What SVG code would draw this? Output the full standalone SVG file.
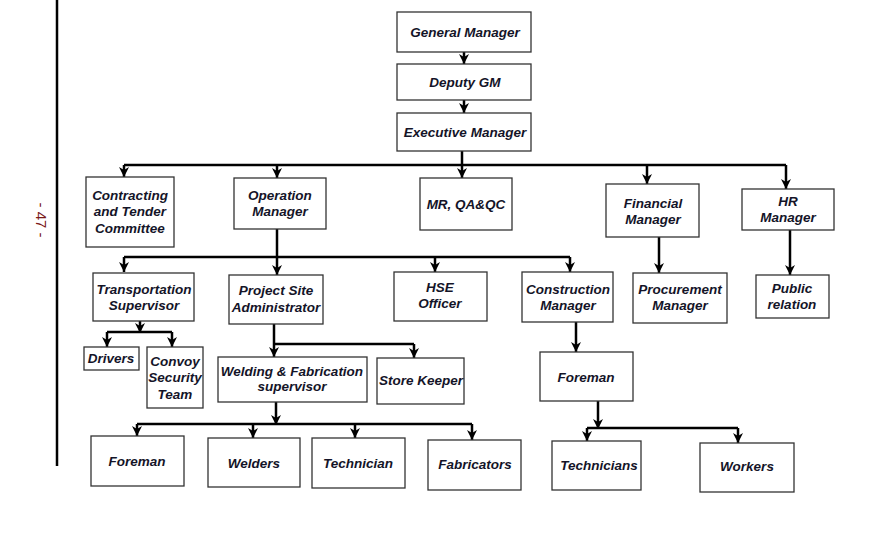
<svg xmlns="http://www.w3.org/2000/svg" width="884" height="540" viewBox="0 0 884 540">
<defs>
<marker id="ah" viewBox="0 0 10 10" refX="10" refY="5" markerWidth="10" markerHeight="10" markerUnits="userSpaceOnUse" orient="auto">
<path d="M0,0 L10,5 L0,10 L3,5 z" fill="#000"/>
</marker>
<style>
.b{fill:#fff;stroke:#333;stroke-width:1.3}
.t{font-family:"Liberation Sans",Arial,sans-serif;font-weight:bold;font-style:italic;font-size:13.5px;fill:#141428;text-anchor:middle}
.c{fill:none;stroke:#000;stroke-width:2.5}
.a{fill:none;stroke:#000;stroke-width:2.5;marker-end:url(#ah)}
</style>
</defs>
<rect width="884" height="540" fill="#fff"/>
<line x1="57" y1="0" x2="57" y2="466" stroke="#000" stroke-width="2.5"/>
<text transform="translate(36,220) rotate(90)" font-family="'Liberation Sans',Arial,sans-serif" font-size="15" fill="#7a1a1a" text-anchor="middle">- 47 -</text>

<g id="connectors">
<path class="a" d="M464,52 V64"/>
<path class="a" d="M464,100 V113"/>
<path class="c" d="M462,151 V165"/>
<path class="c" d="M124,165 H786"/>
<path class="a" d="M124,165 V177"/>
<path class="a" d="M277,165 V178"/>
<path class="a" d="M462,165 V178"/>
<path class="a" d="M647,165 V184"/>
<path class="a" d="M786,165 V189"/>
<path class="a" d="M277,229 V275"/>
<path class="c" d="M124,257 H570"/>
<path class="a" d="M124,257 V272"/>
<path class="a" d="M435,257 V272"/>
<path class="a" d="M570,257 V272"/>
<path class="a" d="M659,237 V273"/>
<path class="a" d="M790,230 V275"/>
<path class="a" d="M140,321 V333"/>
<path class="c" d="M107,332 H172"/>
<path class="a" d="M107,332 V347"/>
<path class="a" d="M172,332 V347"/>
<path class="a" d="M274,324 V357"/>
<path class="c" d="M274,344 H414"/>
<path class="a" d="M414,344 V358"/>
<path class="a" d="M276,402 V425"/>
<path class="c" d="M137,424 H472"/>
<path class="a" d="M137,424 V436"/>
<path class="a" d="M253,424 V438"/>
<path class="a" d="M355,424 V438"/>
<path class="a" d="M472,424 V440"/>
<path class="a" d="M576,322 V352"/>
<path class="a" d="M598,401 V429"/>
<path class="c" d="M587,428 H738"/>
<path class="a" d="M587,428 V441"/>
<path class="a" d="M738,428 V443"/>
</g>

<g id="gm"><rect class="b" x="397" y="12" width="134" height="40"/><text class="t" x="465" y="37">General Manager</text></g>
<g id="dgm"><rect class="b" x="397" y="64" width="134" height="36"/><text class="t" x="465" y="87">Deputy GM</text></g>
<g id="em"><rect class="b" x="397" y="113" width="134" height="38"/><text class="t" x="465" y="137">Executive Manager</text></g>

<g id="ctc"><rect class="b" x="86" y="177" width="88" height="70"/><text class="t" x="130" y="200">Contracting</text><text class="t" x="130" y="216">and Tender</text><text class="t" x="130" y="233">Committee</text></g>
<g id="om"><rect class="b" x="234" y="178" width="92" height="51"/><text class="t" x="280" y="200">Operation</text><text class="t" x="280" y="216">Manager</text></g>
<g id="mr"><rect class="b" x="420" y="178" width="92" height="52"/><text class="t" x="466" y="209">MR, QA&amp;QC</text></g>
<g id="fm"><rect class="b" x="606" y="184" width="93" height="53"/><text class="t" x="653" y="208">Financial</text><text class="t" x="653" y="224">Manager</text></g>
<g id="hr"><rect class="b" x="742" y="189" width="92" height="41"/><text class="t" x="788" y="206">HR</text><text class="t" x="788" y="222">Manager</text></g>

<g id="ts"><rect class="b" x="93" y="273" width="101" height="48"/><text class="t" x="144" y="294">Transportation</text><text class="t" x="144" y="310">Supervisor</text></g>
<g id="psa"><rect class="b" x="229" y="275" width="94" height="49"/><text class="t" x="276" y="295">Project Site</text><text class="t" x="276" y="312">Administrator</text></g>
<g id="hse"><rect class="b" x="394" y="272" width="93" height="49"/><text class="t" x="440" y="292">HSE</text><text class="t" x="440" y="308">Officer</text></g>
<g id="cm"><rect class="b" x="522" y="272" width="91" height="50"/><text class="t" x="568" y="294">Construction</text><text class="t" x="568" y="310">Manager</text></g>
<g id="pm"><rect class="b" x="633" y="273" width="94" height="50"/><text class="t" x="680" y="294">Procurement</text><text class="t" x="680" y="310">Manager</text></g>
<g id="pr"><rect class="b" x="756" y="275" width="73" height="43"/><text class="t" x="792" y="293">Public</text><text class="t" x="792" y="309">relation</text></g>

<g id="drv"><rect class="b" x="84" y="347" width="55" height="23"/><text class="t" x="111" y="363">Drivers</text></g>
<g id="cst"><rect class="b" x="147" y="347" width="56" height="61"/><text class="t" x="175" y="366">Convoy</text><text class="t" x="175" y="382">Security</text><text class="t" x="175" y="399">Team</text></g>
<g id="wfs"><rect class="b" x="218" y="357" width="149" height="45"/><text class="t" x="292" y="376">Welding &amp; Fabrication</text><text class="t" x="292" y="391">supervisor</text></g>
<g id="sk"><rect class="b" x="377" y="358" width="87" height="46"/><text class="t" x="421" y="385">Store Keeper</text></g>
<g id="fm2"><rect class="b" x="540" y="352" width="93" height="49"/><text class="t" x="586" y="382">Foreman</text></g>

<g id="fo1"><rect class="b" x="91" y="436" width="93" height="50"/><text class="t" x="137" y="466">Foreman</text></g>
<g id="wel"><rect class="b" x="208" y="438" width="92" height="49"/><text class="t" x="254" y="468">Welders</text></g>
<g id="tec"><rect class="b" x="312" y="438" width="93" height="50"/><text class="t" x="358" y="468">Technician</text></g>
<g id="fab"><rect class="b" x="428" y="440" width="93" height="50"/><text class="t" x="475" y="469">Fabricators</text></g>
<g id="tcs"><rect class="b" x="552" y="441" width="89" height="49"/><text class="t" x="599" y="470">Technicians</text></g>
<g id="wrk"><rect class="b" x="700" y="443" width="94" height="49"/><text class="t" x="747" y="471">Workers</text></g>
</svg>
